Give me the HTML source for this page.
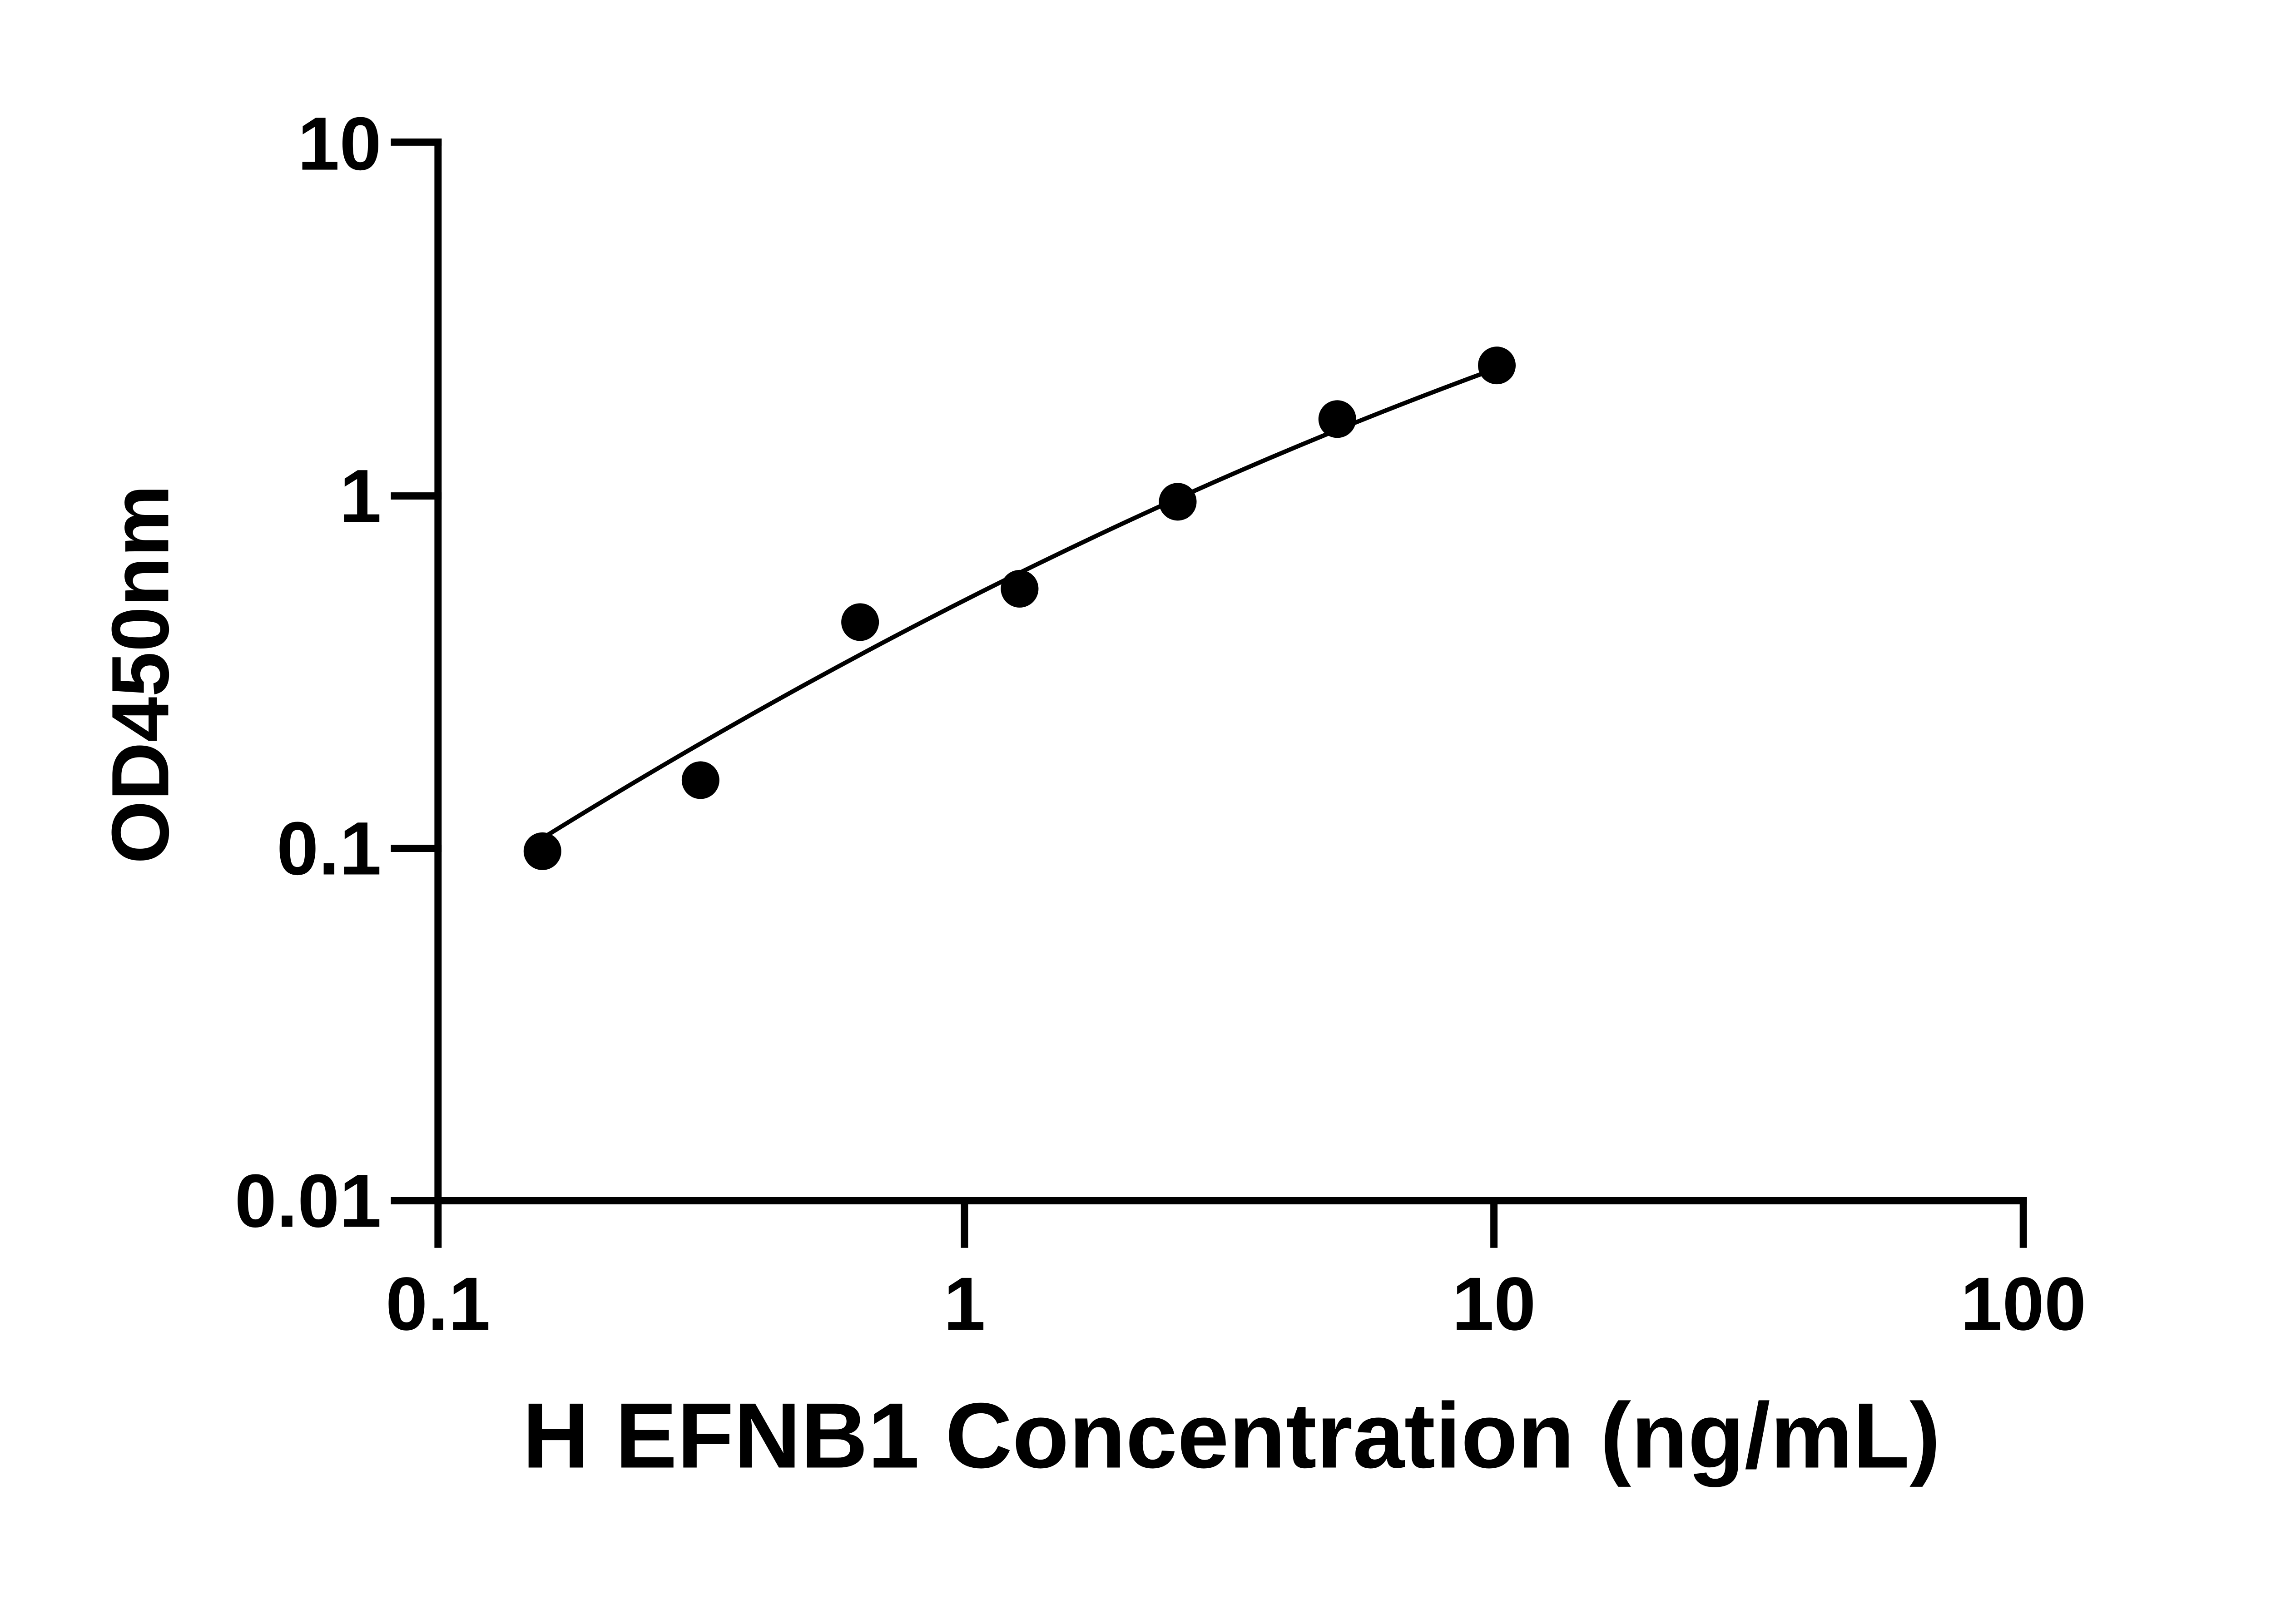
<!DOCTYPE html>
<html><head><meta charset="utf-8"><style>html,body{margin:0;padding:0;background:#fff;}svg{display:block}</style></head>
<body>
<svg width="5170" height="3576" viewBox="0 0 1619 1119.9" preserveAspectRatio="none" xmlns="http://www.w3.org/2000/svg">
<rect width="1619" height="1119.9" fill="#fff"/>
<g stroke="#000" stroke-width="5" fill="none" stroke-linecap="square">
<line x1="302" y1="98" x2="302" y2="828"/>
<line x1="302" y1="828" x2="1395" y2="828"/>
<line x1="272" y1="98" x2="302" y2="98"/>
<line x1="272" y1="342" x2="302" y2="342"/>
<line x1="272" y1="585" x2="302" y2="585"/>
<line x1="272" y1="828" x2="302" y2="828"/>
<line x1="302" y1="828" x2="302" y2="858"/>
<line x1="665" y1="828" x2="665" y2="858"/>
<line x1="1030" y1="828" x2="1030" y2="858"/>
<line x1="1395" y1="828" x2="1395" y2="858"/>
</g>
<path d="M374 578 Q703 374 1032 254" stroke="#000" stroke-width="3" fill="none"/>
<g fill="#000">
<circle cx="374" cy="587" r="13"/>
<circle cx="483" cy="538" r="13"/>
<circle cx="593" cy="429" r="13"/>
<circle cx="703" cy="406" r="13"/>
<circle cx="812" cy="346" r="13"/>
<circle cx="922" cy="289" r="13"/>
<circle cx="1032" cy="252" r="13"/>
</g>
<g font-family="Liberation Sans, sans-serif" font-weight="bold" font-size="52" fill="#000">
<g text-anchor="end">
<text x="263" y="117">10</text>
<text x="263" y="360">1</text>
<text x="263" y="603">0.1</text>
<text x="263" y="846">0.01</text>
</g>
<g text-anchor="middle">
<text x="302" y="917">0.1</text>
<text x="665" y="917">1</text>
<text x="1030" y="917">10</text>
<text x="1395" y="917">100</text>
<text x="849" y="1012" font-size="64">H EFNB1 Concentration (ng/mL)</text>
<text transform="translate(116,465) rotate(-90)" font-size="56">OD450nm</text>
</g>
</g>
</svg>
</body></html>
